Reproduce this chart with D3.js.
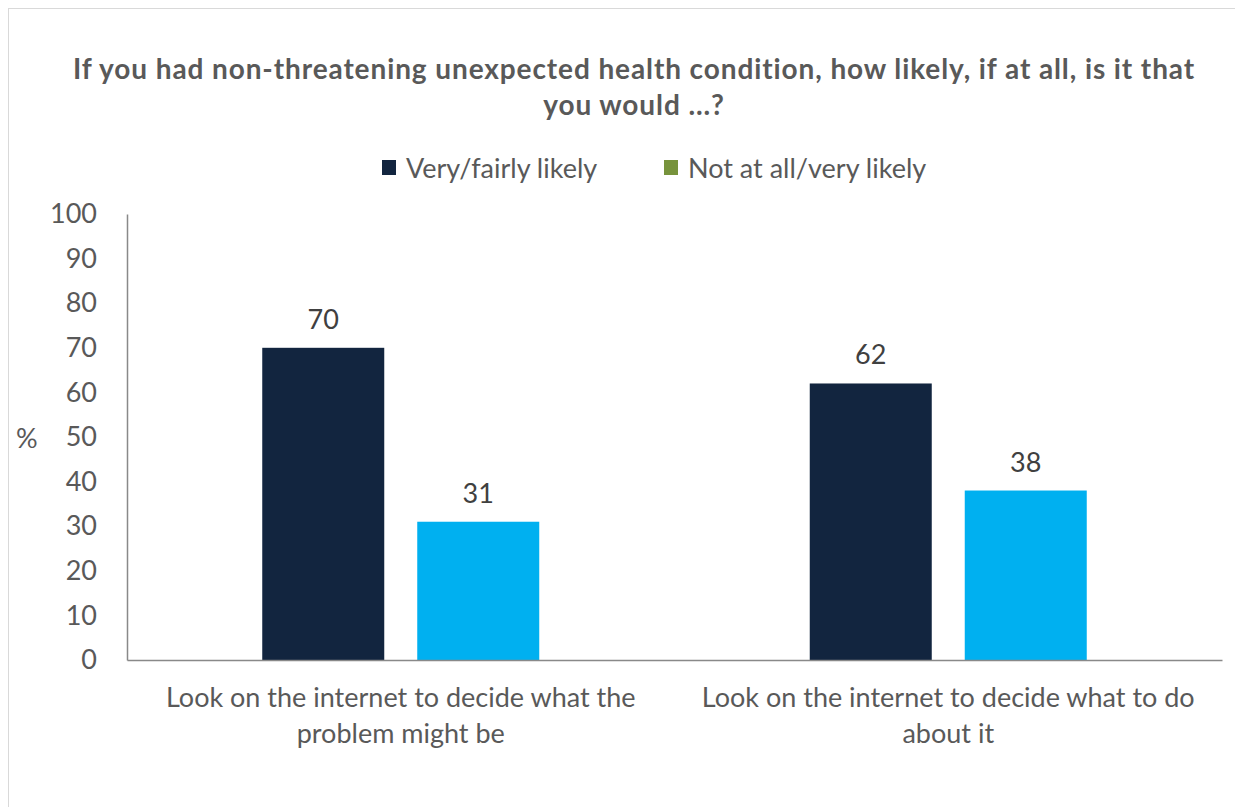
<!DOCTYPE html>
<html>
<head>
<meta charset="utf-8">
<script src="https://cdn.jsdelivr.net/npm/d3@7"></script>
<style>
  body { margin: 0; background: #fff; }
  svg { display: block; font-family: Lato, "Open Sans", sans-serif; }
</style>
</head>
<body>
<svg id="chart" width="1235" height="807"></svg>
<script>
"use strict";

// chart data
const titleLines = ["If you had non-threatening unexpected health condition, how likely, if at all, is it that", "you would ...?"];
const categories = ["Look on the internet to decide what the problem might be", "Look on the internet to decide what to do about it"];
const categoryLines = [["Look on the internet to decide what the", "problem might be"], ["Look on the internet to decide what to do", "about it"]];
const seriesNames = ["Very/fairly likely", "Not at all/very likely"];
const likelyValues = [70, 62];
const notLikelyValues = [31, 38];
const yTicks = [0, 10, 20, 30, 40, 50, 60, 70, 80, 90, 100];

const barColors = ["#12253F", "#00B0F0"];
const legendColors = ["#12253F", "#77933C"];
const textColor = "#595959";
const fontSize = 27;

const svg = d3.select("#chart");

// outer frame
svg.append("rect")
    .attr("x", 8.5).attr("y", 8.5)
    .attr("width", 1240).attr("height", 820)
    .attr("fill", "none").attr("stroke", "#d9d9d9");

// title
svg.append("g").selectAll("text")
    .data(titleLines)
    .enter().append("text")
    .attr("x", 634)
    .attr("y", (d, i) => 79 + i * 36)
    .attr("text-anchor", "middle")
    .attr("font-size", 28).attr("font-weight", "bold")
    .attr("letter-spacing", 0.9)
    .attr("fill", textColor)
    .text(d => d);

// legend
const legendX = [382, 664];
const legend = svg.append("g");
seriesNames.forEach(function(name, i) {
    legend.append("rect")
        .attr("x", legendX[i]).attr("y", 160)
        .attr("width", 14).attr("height", 15)
        .attr("fill", legendColors[i]);
    legend.append("text")
        .attr("x", legendX[i] + 24).attr("y", 178)
        .attr("font-size", fontSize).attr("fill", textColor)
        .text(name);
});

// scales
const margin = { left: 127, right: 1222, top: 214, bottom: 660 };
const x0 = d3.scaleBand().domain(categories).range([margin.left, margin.right]);
const y = d3.scaleLinear().domain([0, 100]).range([margin.bottom, margin.top]);

const barWidth = 122, barGap = 33;

const rows = categories.map((c, i) => ({ cat: c, vals: [likelyValues[i], notLikelyValues[i]] }));

// y axis
const yAxis = svg.append("g")
    .attr("transform", "translate(" + margin.left + ",0)")
    .call(d3.axisLeft(y).tickValues(yTicks).tickSize(0).tickPadding(30));
yAxis.select(".domain").attr("stroke", "#898989").attr("stroke-width", 1.5);
yAxis.selectAll("text").attr("font-size", fontSize).attr("fill", textColor)
    .attr("font-family", "Lato, sans-serif");

// y axis label
svg.append("text")
    .attr("x", 16).attr("y", 448)
    .attr("font-size", fontSize).attr("fill", textColor)
    .text("%");

// bars
const groups = svg.append("g").selectAll("g")
    .data(rows)
    .enter().append("g")
    .attr("transform", d => "translate(" + (x0(d.cat) + x0.bandwidth() / 2) + ",0)");

groups.selectAll("rect")
    .data(d => d.vals)
    .enter().append("rect")
    .attr("x", (d, i) => i === 0 ? -barGap / 2 - barWidth : barGap / 2)
    .attr("y", d => y(d))
    .attr("width", barWidth)
    .attr("height", d => y(0) - y(d))
    .attr("fill", (d, i) => barColors[i]);

groups.selectAll("text")
    .data(d => d.vals)
    .enter().append("text")
    .attr("x", (d, i) => i === 0 ? -barGap / 2 - barWidth / 2 : barGap / 2 + barWidth / 2)
    .attr("y", d => y(d) - 19)
    .attr("text-anchor", "middle")
    .attr("font-size", fontSize).attr("fill", "#404040")
    .text(d => d);

// x axis
const xAxis = svg.append("g")
    .attr("transform", "translate(0," + margin.bottom + ")")
    .call(d3.axisBottom(x0).tickSize(0).tickFormat(""));
xAxis.select(".domain").attr("stroke", "#898989").attr("stroke-width", 1.5);

// category labels
categories.forEach(function(c, i) {
    svg.append("g").selectAll("text")
        .data(categoryLines[i])
        .enter().append("text")
        .attr("x", x0(c) + x0.bandwidth() / 2)
        .attr("y", (d, j) => 707 + j * 36)
        .attr("text-anchor", "middle")
        .attr("font-size", fontSize).attr("fill", textColor)
        .text(d => d);
});
</script>
</body>
</html>
